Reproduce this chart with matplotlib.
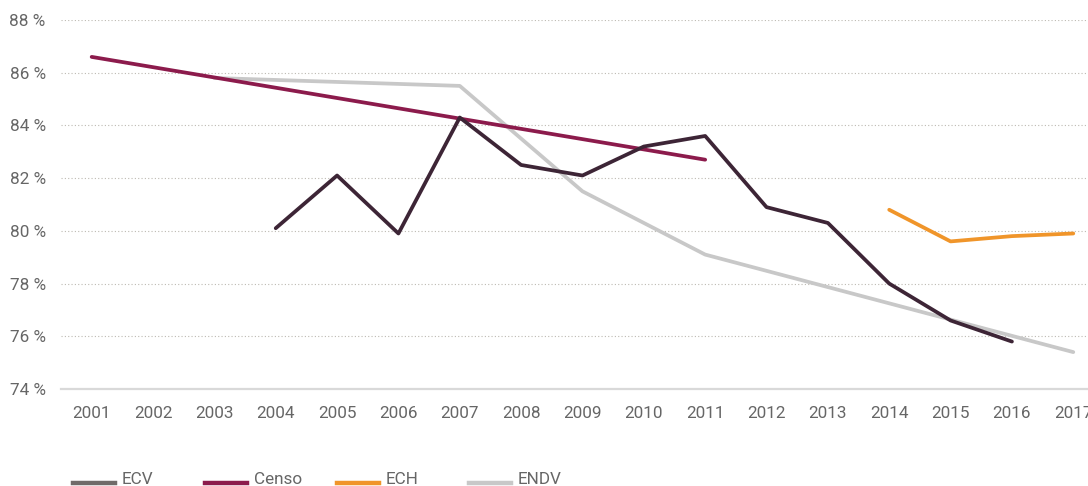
import matplotlib.pyplot as plt
from matplotlib.lines import Line2D

plt.rcParams['font.family'] = ['Roboto', 'DejaVu Sans']

years = list(range(2001, 2018))

# series (% of households), each survey only where it has values
ecv_years = [2004, 2005, 2006, 2007, 2008, 2009, 2010, 2011, 2012, 2013, 2014, 2015, 2016]
ecv_vals = [80.1, 82.1, 79.9, 84.3, 82.5, 82.1, 83.2, 83.6, 80.9, 80.3, 78.0, 76.6, 75.8]

censo_years = [2001, 2011]
censo_vals = [86.6, 82.7]

ech_years = [2014, 2015, 2016, 2017]
ech_vals = [80.8, 79.6, 79.8, 79.9]

endv_years = [2003, 2007, 2009, 2011, 2017]
endv_vals = [85.8, 85.5, 81.5, 79.1, 75.4]

yticks = [74, 76, 78, 80, 82, 84, 86, 88]

colors = {
    'ECV': '#3d2536',
    'Censo': '#8c1b4c',
    'ECH': '#f0952a',
    'ENDV': '#c8c8c8',
}
legend_colors = {'ECV': '#6f6b69', 'Censo': '#8c1b4c', 'ECH': '#f0952a', 'ENDV': '#c8c8c8'}
text_color = '#666666'
fs = 12.3

fig = plt.figure(figsize=(10.88, 4.86), dpi=100)
ax = fig.add_axes([61 / 1088, 1 - 389 / 486, 1 - 61 / 1088, 369 / 486])

ax.plot(endv_years, endv_vals, color=colors['ENDV'], lw=2.7, solid_capstyle='round', zorder=3)
ax.plot(censo_years, censo_vals, color=colors['Censo'], lw=2.7, solid_capstyle='round', zorder=4)
ax.plot(ecv_years, ecv_vals, color=colors['ECV'], lw=2.7, solid_capstyle='round', zorder=5)
ax.plot(ech_years, ech_vals, color=colors['ECH'], lw=2.7, solid_capstyle='round', zorder=5)

ax.set_xlim(2000.5, 2017.24)
ax.set_ylim(74, 88)
ax.set_xticks(years)
ax.set_xticklabels([str(y) for y in years])
ax.set_yticks(yticks)
ax.set_yticklabels([f'{v} %' for v in yticks])

for v in yticks[1:]:
    ax.axhline(v, color='#bdbab2', lw=0.8, ls=(0, (1, 2)), zorder=1)

for s in ['top', 'right', 'left']:
    ax.spines[s].set_visible(False)
ax.spines['bottom'].set_color('#d9d9d9')
ax.spines['bottom'].set_linewidth(1.6)
ax.spines['bottom'].set_zorder(2)

ax.tick_params(axis='both', length=0, labelsize=fs, labelcolor=text_color)
ax.tick_params(axis='y', pad=11)
ax.tick_params(axis='x', pad=12)

# legend row along the bottom
x0 = 73 / 1088
step = 132 / 1088
ly = 1 - 483 / 486
for i, name in enumerate(['ECV', 'Censo', 'ECH', 'ENDV']):
    lx = x0 + i * step
    fig.add_artist(Line2D([lx, lx + 42 / 1088], [ly, ly], color=legend_colors[name],
                          lw=3.2, transform=fig.transFigure))
    fig.text(lx + 49 / 1088, ly + 4 / 486, name, fontsize=fs, color=text_color,
             va='center', ha='left')

fig.savefig('out.png', dpi=100)
